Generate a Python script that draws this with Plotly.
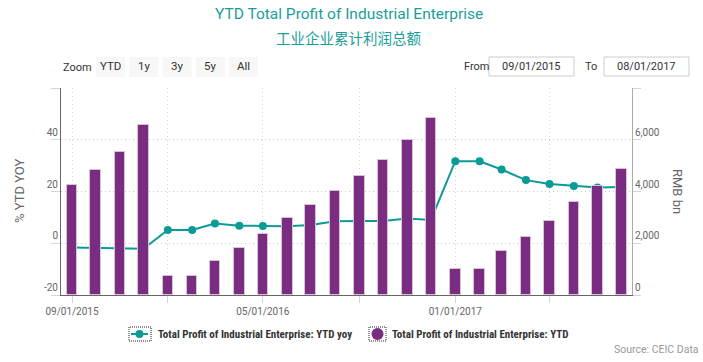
import plotly.graph_objects as go

# ---------------- data ----------------
months = ["2015-09-01", "2015-10-01", "2015-11-01", "2015-12-01",
          "2016-01-01", "2016-02-01", "2016-03-01", "2016-04-01",
          "2016-05-01", "2016-06-01", "2016-07-01", "2016-08-01",
          "2016-09-01", "2016-10-01", "2016-11-01", "2016-12-01",
          "2017-01-01", "2017-02-01", "2017-03-01", "2017-04-01",
          "2017-05-01", "2017-06-01", "2017-07-01", "2017-08-01"]
ytd_yoy = [-1.6, -1.8, -1.8, -2.1, 5.1, 5.1, 7.6, 6.8,
           6.7, 6.6, 7.1, 8.5, 8.6, 8.6, 9.6, 9.0,
           31.7, 31.7, 28.5, 24.4, 22.9, 22.1, 21.5, 21.7]
ytd_profit = [4255, 4818, 5513, 6571, 753, 753, 1305, 1834,
              2363, 2981, 3494, 4023, 4602, 5205, 5992, 6826,
              996, 996, 1691, 2247, 2876, 3610, 4228, 4884]
x_tick_vals = ["2015-09-01", "2016-01-01", "2016-05-01", "2016-09-01", "2017-01-01", "2017-05-01"]
x_tick_text = ["09/01/2015", "", "05/01/2016", "", "01/01/2017", ""]
left_tick_vals = [-20, 0, 20, 40, 60]
left_tick_text = ["-20", "0", "20", "40", ""]
right_tick_vals = [0, 2000, 4000, 6000, 8000]
right_tick_text = ["0", "2,000", "4,000", "6,000", ""]
range_buttons = ["YTD", "1y", "3y", "5y", "All"]
name_yoy = "Total Profit of Industrial Enterprise: YTD yoy"
name_ytd = "Total Profit of Industrial Enterprise: YTD"

# ---------------- style ----------------
TEAL = "#0a9b96"
PURPLE = "#7a2c80"
FONT = "Roboto, Open Sans, sans-serif"
W, H = 703, 362
L, R, T, B = 61, 632, 88, 295


def px(x):
    return (x - L) / (R - L)


def py(y):
    return (B - y) / (B - T)


fig = go.Figure()
fig.add_trace(go.Scatter(
    x=months, y=ytd_yoy, name=name_yoy, mode="lines+markers",
    line=dict(color=TEAL, width=2), marker=dict(color=TEAL, size=8),
    yaxis="y", showlegend=False))
fig.add_trace(go.Bar(
    x=months, y=ytd_profit, name=name_ytd, yaxis="y2",
    marker=dict(color=PURPLE, line=dict(color="#d7c2da", width=1)),
    width=13.5 * 86400000, showlegend=False))

shapes = []
annotations = []

# titles
annotations.append(dict(text="YTD Total Profit of Industrial Enterprise", x=px(349), y=py(14),
                        xref="paper", yref="paper", xanchor="center", yanchor="middle",
                        showarrow=False, font=dict(family=FONT, size=15.5, color="#1a9e9a")))
annotations.append(dict(text="工业企业累计利润总额", x=px(348.5), y=py(37),
                        xref="paper", yref="paper", xanchor="center", yanchor="middle",
                        showarrow=False, font=dict(family="Noto Sans CJK SC", size=14.5, color="#1a9e9a")))

# zoom buttons
annotations.append(dict(text="Zoom", x=px(77), y=py(67), xref="paper", yref="paper",
                        xanchor="center", yanchor="middle", showarrow=False,
                        font=dict(family=FONT, size=11, color="#333333")))
for i, lab in enumerate(range_buttons):
    x0 = 96 + i * 33.3
    shapes.append(dict(type="rect", xref="paper", yref="paper", x0=px(x0), x1=px(x0 + 29),
                       y0=py(57), y1=py(77), fillcolor="#f7f7f7", line=dict(width=0), layer="below"))
    annotations.append(dict(text=lab, x=px(x0 + 14.5), y=py(66), xref="paper", yref="paper",
                            xanchor="center", yanchor="middle", showarrow=False,
                            font=dict(family=FONT, size=11.5, color="#333333")))

# from / to boxes
annotations.append(dict(text="From", x=px(476), y=py(66), xref="paper", yref="paper",
                        xanchor="center", yanchor="middle", showarrow=False,
                        font=dict(family=FONT, size=11, color="#333333")))
annotations.append(dict(text="To", x=px(591), y=py(66), xref="paper", yref="paper",
                        xanchor="center", yanchor="middle", showarrow=False,
                        font=dict(family=FONT, size=11, color="#333333")))
for (x0, x1, lab) in [(489, 574, "09/01/2015"), (604, 689, "08/01/2017")]:
    shapes.append(dict(type="rect", xref="paper", yref="paper", x0=px(x0), x1=px(x1),
                       y0=py(57), y1=py(76), fillcolor="white", line=dict(color="#cccccc", width=1)))
    annotations.append(dict(text=lab, x=px((x0 + x1) / 2), y=py(66.5), xref="paper", yref="paper",
                            xanchor="center", yanchor="middle", showarrow=False,
                            font=dict(family=FONT, size=11, color="#333333")))

# axis titles
annotations.append(dict(text="% YTD YOY", x=px(19), y=py(191), xref="paper", yref="paper",
                        xanchor="center", yanchor="middle", textangle=-90, showarrow=False,
                        font=dict(family=FONT, size=13, color="#666666")))
annotations.append(dict(text="RMB bn", x=px(678), y=py(191), xref="paper", yref="paper",
                        xanchor="center", yanchor="middle", textangle=90, showarrow=False,
                        font=dict(family=FONT, size=13, color="#666666")))

# legend (manual)
LY = 334
shapes.append(dict(type="rect", xref="paper", yref="paper", x0=px(129), x1=px(151),
                   y0=py(341), y1=py(327), line=dict(color="#222222", width=1, dash="1px,1px")))
shapes.append(dict(type="line", xref="paper", yref="paper", x0=px(131), x1=px(148),
                   y0=py(LY), y1=py(LY), line=dict(color=TEAL, width=2)))
shapes.append(dict(type="circle", xref="paper", yref="paper", x0=px(135.5), x1=px(143.5),
                   y0=py(LY + 4), y1=py(LY - 4), fillcolor=TEAL, line=dict(width=0)))
annotations.append(dict(text="<b>" + name_yoy + "</b>", x=px(156), y=py(LY), xref="paper", yref="paper",
                        xanchor="left", yanchor="middle", showarrow=False,
                        font=dict(family="Liberation Sans Narrow, Roboto Condensed, Roboto", size=11, color="#333333")))
shapes.append(dict(type="rect", xref="paper", yref="paper", x0=px(369), x1=px(386),
                   y0=py(341), y1=py(327), line=dict(color="#222222", width=1, dash="1px,1px")))
shapes.append(dict(type="circle", xref="paper", yref="paper", x0=px(371.5), x1=px(383.5),
                   y0=py(LY + 6), y1=py(LY - 6), fillcolor=PURPLE, line=dict(width=0)))
annotations.append(dict(text="<b>" + name_ytd + "</b>", x=px(390), y=py(LY), xref="paper", yref="paper",
                        xanchor="left", yanchor="middle", showarrow=False,
                        font=dict(family="Liberation Sans Narrow, Roboto Condensed, Roboto", size=11, color="#333333")))

# source
annotations.append(dict(text="Source: CEIC Data", x=px(701), y=py(349), xref="paper", yref="paper",
                        xanchor="right", yanchor="middle", showarrow=False,
                        font=dict(family=FONT, size=10.5, color="#999999")))

fig.update_layout(
    width=W, height=H, autosize=False,
    margin=dict(l=L, r=W - R, t=T, b=H - B, pad=0),
    paper_bgcolor="white", plot_bgcolor="white",
    font=dict(family=FONT, size=10, color="#666666"),
    showlegend=False, bargap=0,
    xaxis=dict(type="date", range=["2015-08-18", "2017-08-14"],
               tickmode="array", tickvals=x_tick_vals, ticktext=x_tick_text,
               ticks="outside", ticklen=7, tickcolor="#ccd6eb",
               showline=True, linecolor="#666666", linewidth=1,
               showgrid=True, gridcolor="#d0d4dc", griddash="1px,3px", gridwidth=1,
               tickfont=dict(size=10, color="#666666"), fixedrange=True),
    yaxis=dict(range=[-20, 60], tickmode="array", tickvals=left_tick_vals, ticktext=left_tick_text,
               ticks="outside", ticklen=9, tickcolor="#ccd6eb",
               ticklabelposition="outside top",
               showline=True, linecolor="#666666", linewidth=1,
               showgrid=True, gridcolor="#cccccc", griddash="1px,3px", gridwidth=1,
               zeroline=False, tickfont=dict(size=10, color="#666666")),
    yaxis2=dict(range=[0, 8000], overlaying="y", side="right",
                tickmode="array", tickvals=right_tick_vals, ticktext=right_tick_text,
                ticks="outside", ticklen=8, tickcolor="#ccd6eb",
                ticklabelposition="outside top",
                showline=True, linecolor="#aaaaaa", linewidth=1,
                showgrid=False, zeroline=False, tickfont=dict(size=10, color="#666666")),
    shapes=shapes, annotations=annotations,
)

fig.write_html("out.html", config={"displayModeBar": False},
               post_script="document.body.style.margin='0px';document.body.style.padding='0px';")
